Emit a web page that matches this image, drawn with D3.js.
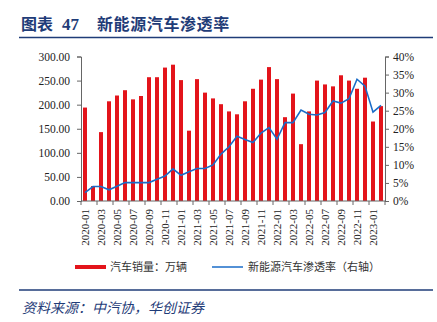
<!DOCTYPE html>
<html><head><meta charset="utf-8">
<script src="https://cdn.jsdelivr.net/npm/d3@7"></script>
<style>body{margin:0;background:#fff;}svg{display:block;}</style>
</head><body><svg id="c" width="437" height="322"></svg>
<script>
const months = ["2020-01","2020-02","2020-03","2020-04","2020-05","2020-06","2020-07","2020-08","2020-09","2020-10","2020-11","2020-12",
"2021-01","2021-02","2021-03","2021-04","2021-05","2021-06","2021-07","2021-08","2021-09","2021-10","2021-11","2021-12",
"2022-01","2022-02","2022-03","2022-04","2022-05","2022-06","2022-07","2022-08","2022-09","2022-10","2022-11","2022-12",
"2023-01","2023-02"];
const sales = [194,31,143,207,219,230,211,218,257,257,277,283,
251,146,253,225,213,201,186,180,207,233,252,278,
253,174,223,118,186,250,242,238,261,250,233,256,
165,197];
const nevShare = [2.3,4.0,4.0,3.1,4.1,5.1,5.1,5.1,5.1,6.0,6.9,8.9,
7.1,8.1,9.0,9.0,10.0,13.0,15.0,17.9,17.0,16.2,18.8,20.3,
17.1,21.7,21.7,25.2,24.0,23.8,24.5,27.7,27.1,28.3,33.7,31.8,
24.6,26.5];
const leftTicks = [0,50,100,150,200,250,300];
const rightTicks = [0,5,10,15,20,25,30,35,40];
const xLabels = months.filter((m,i)=>i%2===0);

const svg = d3.select("#c");
const navy = "#1f3c78";
const red = "#e3141b";
const blue = "#1a6cc8";

// title
svg.append("text").attr("x",21).attr("y",30).attr("font-family","'Noto Sans CJK SC'").attr("font-weight",700)
  .attr("font-size",16).attr("fill",navy).text("图表");
svg.append("text").attr("x",62).attr("y",30).attr("font-family","'Liberation Serif'").attr("font-weight",700)
  .attr("font-size",17).attr("fill",navy).text("47");
svg.append("text").attr("x",97).attr("y",30).attr("font-family","'Noto Sans CJK SC'").attr("font-weight",700)
  .attr("font-size",16).attr("letter-spacing",0.6).attr("fill",navy).text("新能源汽车渗透率");
svg.append("line").attr("x1",19).attr("x2",433).attr("y1",37.5).attr("y2",37.5).attr("stroke",navy).attr("stroke-width",1.5);

const L=81, R=385, T=56.5, B=201;
const x = d3.scaleBand().domain(months).range([L,R]).paddingInner(0.5).paddingOuter(0.25);
const yL = d3.scaleLinear().domain([0,300]).range([B,T]);
const yR = d3.scaleLinear().domain([0,40]).range([B,T]);

// bars
svg.append("g").selectAll("rect").data(sales).join("rect")
  .attr("x",(d,i)=>x(months[i])).attr("width",x.bandwidth())
  .attr("y",d=>yL(d)).attr("height",d=>B-yL(d)).attr("fill",red);

// line
const line = d3.line().x((d,i)=>x(months[i])+x.bandwidth()/2).y(d=>yR(d));
svg.append("path").datum(nevShare).attr("d",line).attr("fill","none").attr("stroke",blue).attr("stroke-width",1.6);

// left axis
const gl = svg.append("g").attr("transform",`translate(${L},0)`)
  .call(d3.axisLeft(yL).tickValues(leftTicks).tickFormat(d3.format(".2f")).tickSizeOuter(0).tickSize(4));
gl.selectAll("text").attr("font-family","'Liberation Serif'").attr("font-size",11.5).attr("fill","#222").attr("x",-11);
// right axis
const gr = svg.append("g").attr("transform",`translate(${R},0)`)
  .call(d3.axisRight(yR).tickValues(rightTicks).tickFormat(d=>d+"%").tickSizeOuter(0).tickSize(4));
gr.selectAll("text").attr("font-family","'Liberation Serif'").attr("font-size",11.5).attr("fill","#222").attr("x",8);
// x axis
const step = x.step();
const gx = svg.append("g").attr("transform",`translate(0,${B})`);
gx.append("line").attr("x1",L).attr("x2",R).attr("stroke","#666");
gx.selectAll("line.t").data(d3.range(0,months.length+1,2)).join("line").attr("class","t")
  .attr("x1",i=>L+i*step).attr("x2",i=>L+i*step).attr("y1",0).attr("y2",4).attr("stroke","#666");
gx.selectAll("text").data(xLabels).join("text")
  .attr("transform",d=>`translate(${x(d)+x.bandwidth()/2+3.5},8) rotate(-90)`)
  .attr("text-anchor","end").attr("font-family","'Liberation Serif'").attr("font-size",11).attr("fill","#222").text(d=>d);
[gl,gr].forEach(g=>{g.select(".domain").attr("stroke","#666");g.selectAll(".tick line").attr("stroke","#666");});

// legend
svg.append("rect").attr("x",75).attr("y",265).attr("width",31).attr("height",4).attr("fill",red);
svg.append("text").attr("x",110).attr("y",271).attr("font-family","'Noto Sans CJK SC'").attr("font-size",11).attr("fill","#333").text("汽车销量：万辆");
svg.append("line").attr("x1",212).attr("x2",243).attr("y1",267).attr("y2",267).attr("stroke",blue).attr("stroke-width",1.5);
svg.append("text").attr("x",248).attr("y",271).attr("font-family","'Noto Sans CJK SC'").attr("font-size",11).attr("fill","#333").text("新能源汽车渗透率（右轴）");

svg.append("line").attr("x1",19).attr("x2",433).attr("y1",290).attr("y2",290).attr("stroke",navy).attr("stroke-width",1.5);
svg.append("text").attr("x",22).attr("y",313).attr("font-family","'Noto Sans CJK SC'").attr("font-style","italic")
  .attr("font-size",14).attr("fill",navy).text("资料来源：中汽协，华创证券");
</script></body></html>
